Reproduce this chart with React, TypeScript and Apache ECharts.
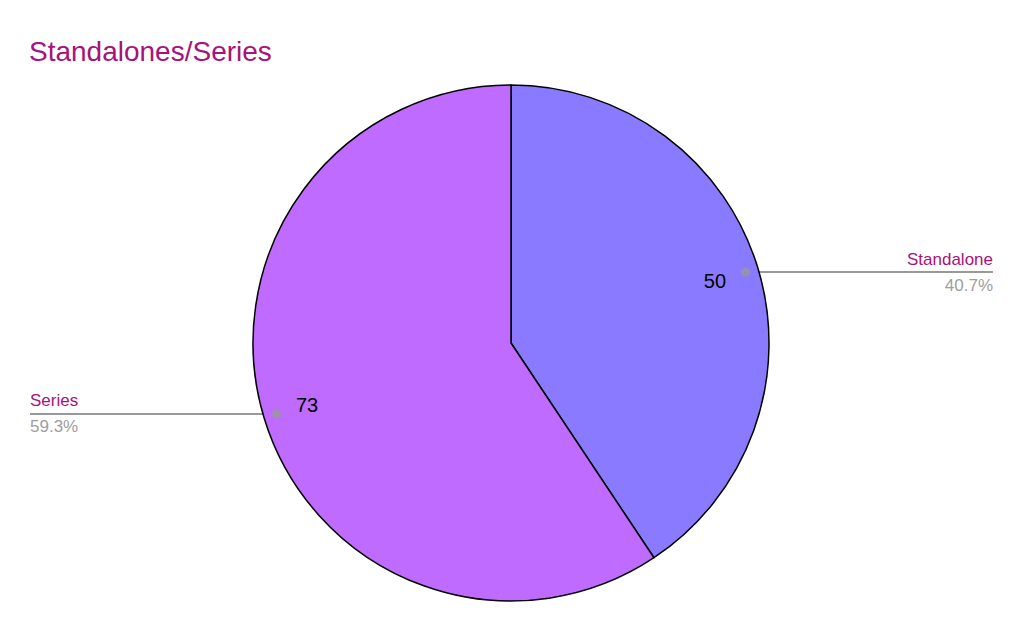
import React, { useEffect, useRef } from "react";
import * as echarts from "echarts";

const categories = ["Standalone", "Series"];
const values = [50, 73];
const sliceColors = ["#8a7aff", "#c06bff"];
const titleText = "Standalones/Series";

const W = 1023;
const H = 631;
const CX = 511;
const CY = 343;
const R = 258;
const R_DOT = 245;
const EDGE = 30;

export default function App() {
  const ref = useRef<HTMLDivElement>(null);
  useEffect(() => {
    if (!ref.current) return;
    const chart = echarts.init(ref.current, undefined, { renderer: "svg" });
    const total = values.reduce((a, b) => a + b, 0);
    const mids: number[] = [];
    let acc = 0;
    values.forEach((v) => {
      mids.push(acc + v / 2);
      acc += v;
    });
    const pieData = categories.map((c, i) => ({
      name: c,
      value: values[i],
      itemStyle: { color: sliceColors[i] },
    }));
    const clearData = categories.map((c, i) => ({ name: c, value: values[i] }));
    const font = "Arial, 'Liberation Sans', sans-serif";
    chart.setOption({
      animation: false,
      title: {
        text: titleText,
        left: 29,
        top: 37,
        padding: 0,
        textStyle: { color: "#a8127a", fontSize: 28, fontWeight: "normal", fontFamily: font },
      },
      polar: { center: [CX, CY], radius: R },
      angleAxis: {
        type: "value",
        min: 0,
        max: total,
        startAngle: 90,
        clockwise: true,
        show: false,
        splitLine: { show: false },
      },
      radiusAxis: { type: "value", min: 0, max: R, show: false, splitLine: { show: false } },
      series: [
        {
          type: "pie",
          center: [CX, CY],
          radius: [0, R],
          startAngle: 90,
          clockwise: true,
          silent: true,
          label: { show: false },
          labelLine: { show: false },
          itemStyle: { borderColor: "#000", borderWidth: 1.5 },
          data: pieData,
        },
        {
          type: "pie",
          center: [CX, CY],
          radius: [162, R],
          startAngle: 90,
          clockwise: true,
          silent: true,
          itemStyle: { color: "rgba(0,0,0,0)", borderWidth: 0 },
          label: {
            show: true,
            position: "inside",
            formatter: "{c}",
            color: "#000",
            fontSize: 20,
            fontFamily: font,
          },
          labelLine: { show: false },
          data: clearData,
        },
        {
          type: "pie",
          center: [CX, CY],
          radius: [0, R_DOT],
          startAngle: 90,
          clockwise: true,
          silent: true,
          percentPrecision: 1,
          itemStyle: { color: "rgba(0,0,0,0)", borderWidth: 0 },
          label: {
            show: true,
            position: "outer",
            formatter: "{n|{b}}\n{p|{d}%}",
            rich: {
              n: { color: "#a8127a", fontSize: 17, lineHeight: 26, fontFamily: font },
              p: { color: "#9e9e9e", fontSize: 17, lineHeight: 26, fontFamily: font },
            },
          },
          labelLine: { show: true, length: 0, length2: 10, lineStyle: { color: "#999", width: 2 } },
          labelLayout: (params: any) => {
            const pts = params.labelLinePoints;
            if (!pts || !pts.length) return {};
            const p0 = pts[0];
            const left = p0[0] < CX;
            const ex = left ? EDGE : W - EDGE;
            return {
              x: ex,
              y: p0[1],
              align: left ? "left" : "right",
              verticalAlign: "middle",
              labelLinePoints: [
                [p0[0], p0[1]],
                [p0[0], p0[1]],
                [ex, p0[1]],
              ],
            };
          },
          data: clearData,
        },
        {
          type: "scatter",
          coordinateSystem: "polar",
          silent: true,
          symbol: "circle",
          symbolSize: 9,
          itemStyle: { color: "#999" },
          data: mids.map((m) => [R_DOT, m]),
        },
      ],
    });
    return () => chart.dispose();
  }, []);
  return (
    <div
      ref={ref}
      style={{ position: "fixed", left: 0, top: 0, width: W, height: H, background: "#fff" }}
    />
  );
}
